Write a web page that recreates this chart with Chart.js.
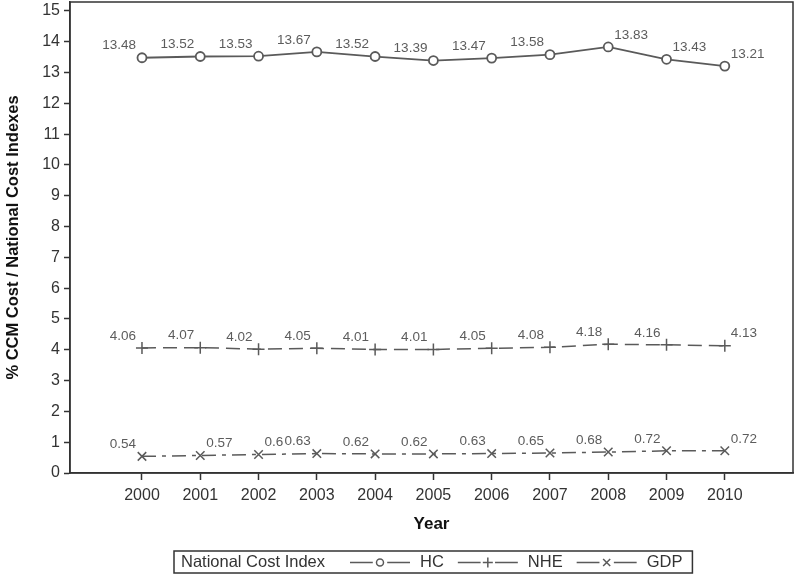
<!DOCTYPE html>
<html>
<head>
<meta charset="utf-8">
<script src="https://cdn.jsdelivr.net/npm/chart.js@4"></script>
<style>
  html, body { margin: 0; padding: 0; background: #fff; }
  #wrap { width: 800px; height: 576px; }
</style>
</head>
<body>
<div id="wrap"><canvas id="costChart" width="800" height="576"></canvas></div>
<script>
// data
const years = [2000, 2001, 2002, 2003, 2004, 2005, 2006, 2007, 2008, 2009, 2010];
const hcValues  = [13.48, 13.52, 13.53, 13.67, 13.52, 13.39, 13.47, 13.58, 13.83, 13.43, 13.21];
const nheValues = [4.06, 4.07, 4.02, 4.05, 4.01, 4.01, 4.05, 4.08, 4.18, 4.16, 4.13];
const gdpValues = [0.54, 0.57, 0.60, 0.63, 0.62, 0.62, 0.63, 0.65, 0.68, 0.72, 0.72];
const yTicks = [0, 1, 2, 3, 4, 5, 6, 7, 8, 9, 10, 11, 12, 13, 14, 15];

// which side of the point each value label sits on (L / R)
const hcSide  = ['L','L','L','L','L','L','L','L','R','R','R'];
const nheSide = ['L','L','L','L','L','L','L','L','L','L','R'];
const gdpSide = ['L','R','R','L','L','L','L','L','L','L','R'];

const FONT = "'Liberation Sans', Arial, sans-serif";
const LINE = '#5a5a5a';
const INK = '#333';

function pts(vals) {
    return years.map((y, i) => ({ x: y, y: vals[i] }));
}

// value labels next to each marker
const valueLabels = {
    id: 'valueLabels',
    afterDatasetsDraw(chart) {
        const ctx = chart.ctx;
        ctx.save();
        ctx.font = '13.5px ' + FONT;
        ctx.fillStyle = '#5c5c5c';
        ctx.textAlign = 'center';
        ctx.textBaseline = 'middle';
        chart.data.datasets.forEach((ds, di) => {
            const meta = chart.getDatasetMeta(di);
            meta.data.forEach((p, i) => {
                const txt = String(ds.data[i].y);
                const half = ctx.measureText(txt).width / 2 + 6;
                const dx = ds.sides[i] === 'L' ? -half : half;
                ctx.fillText(txt, p.x + dx, p.y - 12);
            });
        });
        ctx.restore();
    }
};

// frame round the plot area
const frame = {
    id: 'frame',
    afterDraw(chart) {
        const a = chart.chartArea;
        const ctx = chart.ctx;
        ctx.save();
        ctx.strokeStyle = INK;
        ctx.lineWidth = 1.5;
        ctx.strokeRect(a.left, a.top, a.right - a.left, a.bottom - a.top);
        ctx.restore();
    }
};

// boxed legend with a title, like the SAS one
const boxLegend = {
    id: 'boxLegend',
    afterDraw(chart) {
        const ctx = chart.ctx;
        const a = chart.chartArea;
        const title = 'National Cost Index';
        ctx.save();
        ctx.font = '16.5px ' + FONT;
        const sample = 60, gapIn = 10, gapOut = 14, padL = 7, padR = 10, gapTitle = 25;
        let w = padL + ctx.measureText(title).width + gapTitle;
        chart.data.datasets.forEach((ds, i) => {
            w += sample + gapIn + ctx.measureText(ds.label).width;
            if (i < chart.data.datasets.length - 1) w += gapOut;
        });
        w += padR;
        const h = 22;
        const x0 = Math.round((a.left + a.right) / 2 - w / 2) + 2;
        const y0 = 551;
        ctx.strokeStyle = INK;
        ctx.lineWidth = 1.5;
        ctx.strokeRect(x0, y0, w, h);
        const cy = y0 + h / 2 + 0.5;
        ctx.fillStyle = INK;
        ctx.textBaseline = 'middle';
        ctx.textAlign = 'left';
        let x = x0 + padL;
        ctx.fillText(title, x, cy);
        x += ctx.measureText(title).width + gapTitle;
        chart.data.datasets.forEach((ds, i) => {
            ctx.strokeStyle = LINE;
            ctx.lineWidth = 1.5;
            ctx.setLineDash([]);
            ctx.beginPath();
            ctx.moveTo(x, cy);
            ctx.lineTo(x + sample * 0.38, cy);
            ctx.moveTo(x + sample * 0.62, cy);
            ctx.lineTo(x + sample, cy);
            ctx.stroke();
            ctx.fillStyle = '#fff';
            Chart.helpers.drawPoint(ctx, {
                pointStyle: ds.pointStyle, radius: ds.legendRadius,
                rotation: 0, borderWidth: 1.5
            }, x + sample / 2, cy);
            x += sample + gapIn;
            ctx.fillStyle = INK;
            ctx.fillText(ds.label, x, cy);
            x += ctx.measureText(ds.label).width + gapOut;
        });
        ctx.restore();
    }
};

new Chart(document.getElementById('costChart'), {
    type: 'line',
    data: {
        datasets: [{
            label: 'HC',
            data: pts(hcValues),
            sides: hcSide,
            borderColor: LINE,
            borderWidth: 1.8,
            pointStyle: 'circle',
            pointRadius: 4.5,
            legendRadius: 3.5,
            pointBorderWidth: 1.8,
            pointBorderColor: LINE,
            pointBackgroundColor: '#fff'
        }, {
            label: 'NHE',
            data: pts(nheValues),
            sides: nheSide,
            borderColor: LINE,
            borderWidth: 1.5,
            borderDash: [14, 7],
            pointStyle: 'cross',
            pointRadius: 6,
            legendRadius: 5,
            pointBorderWidth: 1.5,
            pointBorderColor: LINE
        }, {
            label: 'GDP',
            data: pts(gdpValues),
            sides: gdpSide,
            borderColor: LINE,
            borderWidth: 1.5,
            borderDash: [14, 6, 4, 6],
            pointStyle: 'crossRot',
            pointRadius: 6,
            legendRadius: 5,
            pointBorderWidth: 1.5,
            pointBorderColor: LINE
        }]
    },
    options: {
        responsive: false,
        animation: false,
        layout: { autoPadding: false, padding: { top: 2, right: 7, bottom: 40, left: 0 } },
        plugins: {
            legend: { display: false },
            tooltip: { enabled: false }
        },
        scales: {
            x: {
                type: 'linear',
                min: 1998.765,
                max: 2011.17,
                afterBuildTicks: s => { s.ticks = years.map(v => ({ value: v })); },
                afterFit: s => { s.height = 63; s.paddingLeft = 0; s.paddingRight = 0; },
                grid: { drawOnChartArea: false, tickLength: 7, tickColor: INK, tickWidth: 1.5 },
                border: { display: true, color: INK, width: 1.5 },
                ticks: {
                    color: INK, padding: 6, maxRotation: 0,
                    font: { family: FONT, size: 16 },
                    callback: v => String(v)
                },
                title: {
                    display: true, text: 'Year', color: '#111',
                    padding: { top: 0, bottom: 1 },
                    font: { family: FONT, size: 17, weight: 'bold' }
                }
            },
            y: {
                min: 0,
                max: 15.29,
                afterBuildTicks: s => { s.ticks = yTicks.map(v => ({ value: v })); },
                afterFit: s => { s.width = 70; s.paddingTop = 0; s.paddingBottom = 0; },
                grid: { drawOnChartArea: false, tickLength: 6, tickColor: INK, tickWidth: 1.5 },
                border: { display: true, color: INK, width: 1.5 },
                ticks: {
                    color: INK, padding: 4,
                    font: { family: FONT, size: 16 }
                },
                title: {
                    display: true, text: '% CCM Cost / National Cost Indexes', color: '#111',
                    padding: { top: 4, bottom: 0 },
                    font: { family: FONT, size: 16.5, weight: 'bold' }
                }
            }
        }
    },
    plugins: [valueLabels, frame, boxLegend]
});
</script>
</body>
</html>
